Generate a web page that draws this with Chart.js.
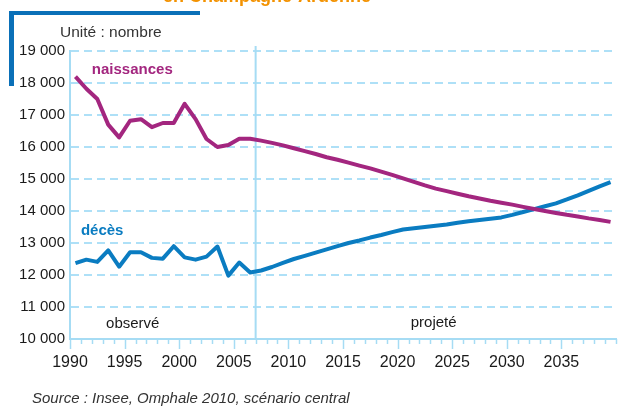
<!DOCTYPE html>
<html>
<head>
<meta charset="utf-8">
<script src="https://cdn.jsdelivr.net/npm/chart.js@4/dist/chart.umd.min.js"></script>
<style>
  html, body { margin: 0; padding: 0; background: #ffffff; }
  body { width: 623px; height: 414px; position: relative; overflow: hidden; font-family: "Liberation Sans", Arial, sans-serif; }
  #wrap { position: absolute; left: 0; top: 0; width: 623px; height: 414px; }
  .txt { position: absolute; white-space: nowrap; line-height: 1; }
</style>
</head>
<body>
<div id="wrap"><canvas id="c" width="623" height="414"></canvas></div>
<div class="txt" style="left:0;width:534px;text-align:center;top:-13px;font-size:18px;font-weight:bold;color:#f39200;">en Champagne-Ardenne</div>
<div style="position:absolute;left:9px;top:11px;width:191px;height:4px;background:#0a70b8;"></div>
<div style="position:absolute;left:9px;top:11px;width:5px;height:75px;background:#0a70b8;"></div>
<div class="txt" style="left:60px;top:24px;font-size:15.5px;color:#333;">Unité : nombre</div>
<div class="txt" style="left:32px;top:390px;font-size:15px;font-style:italic;color:#333;">Source : Insee, Omphale 2010, scénario central</div>
<script>
const years = [];
for (let y = 1990; y <= 2039; y++) years.push(y);

const naissances = [
  18200, 17820, 17500, 16700, 16300, 16820, 16870, 16620, 16750, 16750,
  17350, 16870, 16250, 16000, 16060, 16260, 16260, 16200, 16130, 16050,
  15960, 15870, 15780, 15680, 15600, 15510, 15420, 15330, 15230, 15130,
  15020, 14910, 14800, 14700, 14620, 14540, 14460, 14390, 14320, 14260,
  14200, 14130, 14060, 14000, 13940, 13880, 13830, 13770, 13720, 13660
];
const deces = [
  12370, 12480, 12410, 12770, 12260, 12710, 12710, 12535, 12510, 12900,
  12550, 12480, 12575, 12890, 11980, 12390, 12080, 12140, 12250, 12380,
  12500, 12600, 12700, 12800, 12900, 13000, 13080, 13170, 13250, 13340,
  13420, 13460, 13500, 13540, 13580, 13630, 13680, 13720, 13760, 13800,
  13880, 13970, 14060, 14150, 14240, 14360, 14490, 14630, 14770, 14900
];
const yTicks = [10000, 11000, 12000, 13000, 14000, 15000, 16000, 17000, 18000, 19000];
const xTickLabels = [1990, 1995, 2000, 2005, 2010, 2015, 2020, 2025, 2030, 2035];
const splitYear = 2007;
const seriesNames = ["naissances", "décès"];
const periodLabels = ["observé", "projeté"];

const MAG = "#a3267f";
const BLUE = "#0a7cc1";
const GRID = "#aee0f7";
const AXIS = "#a6dcf4";
const FONT = "'Liberation Sans', Arial, sans-serif";

const toPts = arr => arr.map((v, i) => ({ x: years[i] + 0.5, y: v }));

const extras = {
  id: 'extras',
  beforeDatasetsDraw(chart) {
    const ctx = chart.ctx;
    const xs = chart.scales.x;
    const ca = chart.chartArea;
    ctx.save();
    ctx.strokeStyle = AXIS;
    ctx.lineWidth = 1.5;
    for (let y = 1990; y <= 2040; y++) {
      const px = Math.round(xs.getPixelForValue(y)) + 0.5;
      const len = (y % 5 === 0 && y < 2040) ? 10 : 5;
      ctx.beginPath();
      ctx.moveTo(px, ca.bottom);
      ctx.lineTo(px, ca.bottom + len);
      ctx.stroke();
    }
    const sx = xs.getPixelForValue(splitYear);
    ctx.lineWidth = 2;
    ctx.beginPath();
    ctx.moveTo(sx, ca.top - 5);
    ctx.lineTo(sx, ca.bottom);
    ctx.stroke();
    ctx.restore();
  },
  afterDatasetsDraw(chart) {
    const ctx = chart.ctx;
    const xs = chart.scales.x, ys = chart.scales.y;
    ctx.save();
    ctx.textBaseline = 'middle';
    ctx.textAlign = 'left';
    ctx.font = "bold 15px 'Liberation Sans', Arial, sans-serif";
    ctx.fillStyle = MAG;
    ctx.fillText(seriesNames[0], xs.getPixelForValue(1992.0), ys.getPixelForValue(18420));
    ctx.fillStyle = BLUE;
    ctx.fillText(seriesNames[1], xs.getPixelForValue(1991.0), ys.getPixelForValue(13370));
    ctx.font = "15px 'Liberation Sans', Arial, sans-serif";
    ctx.fillStyle = "#1a1a1a";
    ctx.fillText(periodLabels[0], xs.getPixelForValue(1993.3), ys.getPixelForValue(10480));
    ctx.fillText(periodLabels[1], xs.getPixelForValue(2021.2), ys.getPixelForValue(10510));
    ctx.restore();
  }
};

new Chart(document.getElementById('c'), {
  type: 'line',
  data: {
    datasets: [
      { label: seriesNames[0], data: toPts(naissances), borderColor: MAG, borderWidth: 4, pointRadius: 0, tension: 0, fill: false, borderJoinStyle: 'round', borderCapStyle: 'butt' },
      { label: seriesNames[1], data: toPts(deces), borderColor: BLUE, borderWidth: 4, pointRadius: 0, tension: 0, fill: false, borderJoinStyle: 'round', borderCapStyle: 'butt' }
    ]
  },
  options: {
    responsive: false,
    animation: false,
    devicePixelRatio: 1,
    layout: { padding: { left: 0, right: 7, top: 51, bottom: 0 } },
    plugins: { legend: { display: false }, tooltip: { enabled: false } },
    scales: {
      x: {
        type: 'linear',
        min: 1990, max: 2040,
        afterFit(s) { s.height = 414 - 339; },
        afterBuildTicks(s) { s.ticks = xTickLabels.map(v => ({ value: v })); },
        ticks: {
          autoSkip: false, maxRotation: 0, padding: 14,
          color: '#1a1a1a',
          font: { family: FONT, size: 16 },
          callback: v => String(v)
        },
        grid: { display: false, drawTicks: false },
        border: { display: true, color: AXIS, width: 2 }
      },
      y: {
        min: 10000, max: 19000,
        afterFit(s) { s.width = 70; },
        afterBuildTicks(s) { s.ticks = yTicks.map(v => ({ value: v })); },
        ticks: {
          padding: 5,
          color: '#1a1a1a',
          font: { family: FONT, size: 15 },
          callback: v => String(v).replace(/\B(?=(\d{3})+(?!\d))/g, ' ')
        },
        grid: { color: GRID, lineWidth: 2, drawTicks: false },
        border: { display: true, color: AXIS, width: 2, dash: [8, 5] }
      }
    }
  },
  plugins: [extras]
});
</script>
</body>
</html>
